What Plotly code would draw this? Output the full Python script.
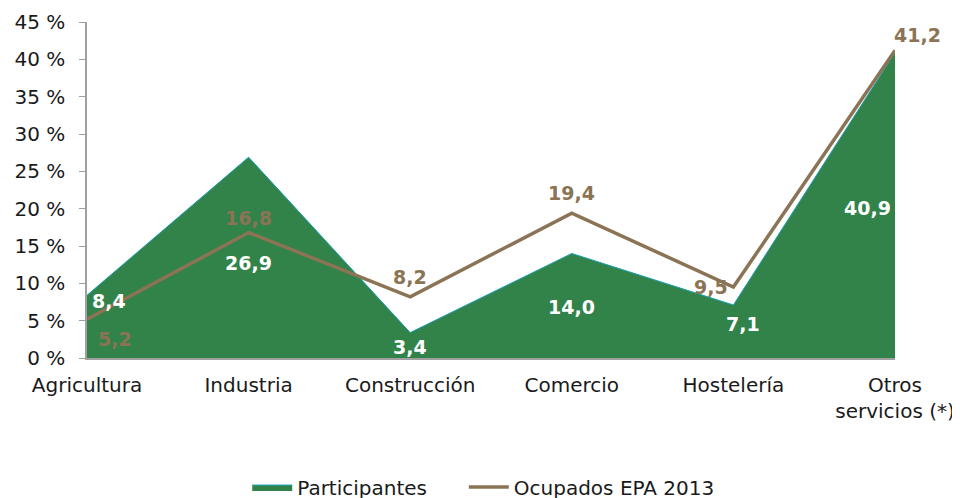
import plotly.graph_objects as go

sectores = ["Agricultura", "Industria", "Construcción", "Comercio", "Hostelería", "Otros<br>servicios (*)"]
participantes = [8.4, 26.9, 3.4, 14.0, 7.1, 40.9]
ocupados_epa = [5.2, 16.8, 8.2, 19.4, 9.5, 41.2]
y_ticks = [0, 5, 10, 15, 20, 25, 30, 35, 40, 45]
y_tick_labels = [f"{v} %" for v in y_ticks]

GREEN = "#31834A"
BROWN = "#8B7355"
FONT = "DejaVu Sans"

fig = go.Figure()
fig.add_trace(go.Scatter(
    x=sectores, y=participantes, name="Participantes" + "\u00a0" * 5, mode="lines",
    fill="tozeroy", fillcolor=GREEN, line=dict(color="#1AA0B4", width=1),
))
fig.add_trace(go.Scatter(
    x=sectores, y=ocupados_epa, name="Ocupados EPA 2013", mode="lines",
    line=dict(color=BROWN, width=3.5),
))

# label offsets (px) for each point
part_shift = [(22, -6), (0, -106), (0, -14), (0, -54), (10, -19), (-28, -155)]
epa_shift = [(28, -20), (0, 15), (0, 20), (0, 20), (-22, 0), (22, 15)]

for i, s in enumerate(sectores):
    dx, dy = part_shift[i]
    fig.add_annotation(x=s, y=participantes[i], text=f"{participantes[i]:.1f}".replace(".", ","),
                       showarrow=False, xshift=dx, yshift=dy,
                       font=dict(family=FONT, size=19, color="white", weight="bold"))
    dx, dy = epa_shift[i]
    fig.add_annotation(x=s, y=ocupados_epa[i], text=f"{ocupados_epa[i]:.1f}".replace(".", ","),
                       showarrow=False, xshift=dx, yshift=dy,
                       font=dict(family=FONT, size=19, color=BROWN, weight="bold"))

fig.update_xaxes(range=[0, 5], showline=True, linecolor="#A0A0A0", linewidth=2,
                 ticks="", showgrid=False, tickfont=dict(size=20),
                 automargin=False, ticklabelstandoff=8)
fig.update_yaxes(range=[0, 45], tickvals=y_ticks, ticktext=y_tick_labels, showline=True,
                 linecolor="#A0A0A0", linewidth=1.5, ticks="outside", ticklen=6,
                 tickcolor="#A0A0A0", showgrid=False, zeroline=False, tickfont=dict(size=20),
                 automargin=False, ticklabelstandoff=10)
# the page body adds 8px at top/left, margins account for it
fig.update_layout(
    width=960, height=498, plot_bgcolor="white", paper_bgcolor="white",
    font=dict(family=FONT, size=20, color="#1a1a1a"),
    margin=dict(l=79, r=73, t=14, b=148),
    legend=dict(orientation="h", x=0.491, xanchor="center", yref="container", y=0.038,
                yanchor="middle", itemwidth=40, font=dict(size=20)),
)
fig.write_html("out.html")
